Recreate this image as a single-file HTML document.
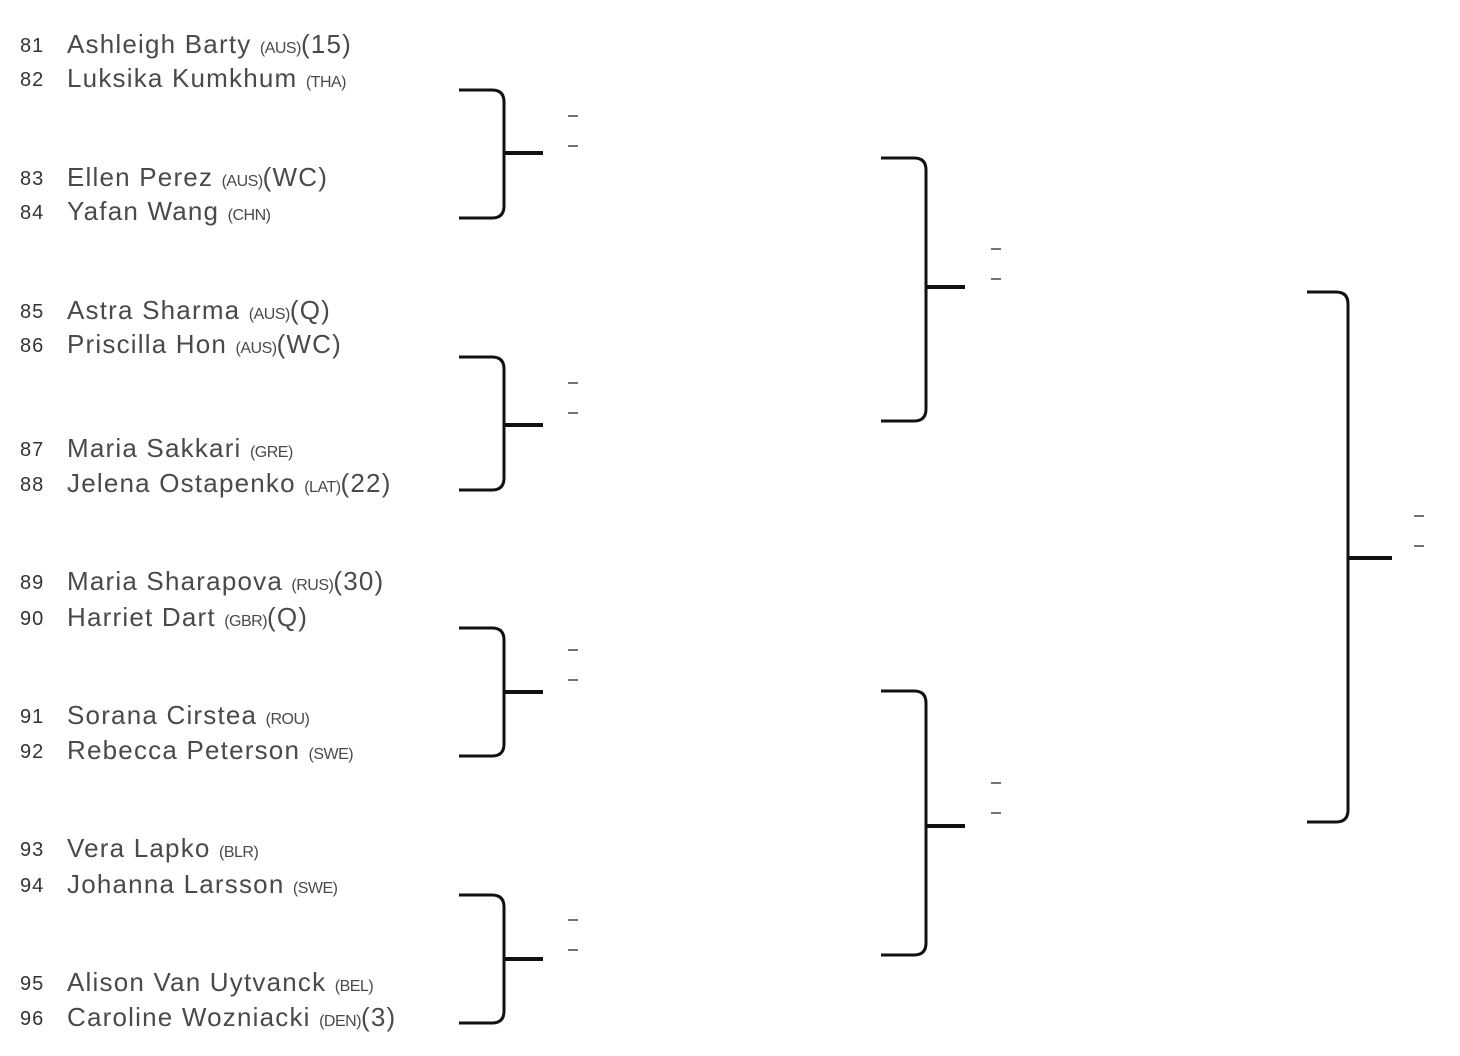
<!DOCTYPE html>
<html><head><meta charset="utf-8"><style>
html,body{margin:0;padding:0;background:#fff;}
svg{display:block;}
.n{font-family:"Liberation Sans",sans-serif;font-size:20px;fill:#333;letter-spacing:1px;}
.p{font-family:"Liberation Sans",sans-serif;font-size:26px;fill:#4a4a4a;letter-spacing:1.2px;}
.c{font-size:16px;letter-spacing:-0.5px;}
</style></head><body>
<svg width="1460" height="1056" viewBox="0 0 1460 1056" xmlns="http://www.w3.org/2000/svg">
<g fill="none" stroke="#111" stroke-width="3">
<path d="M459 90 H492 Q504 90 504 102 V206 Q504 218 492 218 H459"/>
<path d="M459 357 H492 Q504 357 504 369 V478 Q504 490 492 490 H459"/>
<path d="M459 628 H492 Q504 628 504 640 V744 Q504 756 492 756 H459"/>
<path d="M459 895 H492 Q504 895 504 907 V1011 Q504 1023 492 1023 H459"/>
<path d="M881 158 H914 Q926 158 926 170 V409 Q926 421 914 421 H881"/>
<path d="M881 691 H914 Q926 691 926 703 V943 Q926 955 914 955 H881"/>
<path d="M1307 292 H1336 Q1348 292 1348 304 V810 Q1348 822 1336 822 H1307"/>
</g>
<g stroke="#111" stroke-width="4">
<line x1="504" y1="153" x2="543" y2="153"/>
<line x1="504" y1="425" x2="543" y2="425"/>
<line x1="504" y1="692" x2="543" y2="692"/>
<line x1="504" y1="959" x2="543" y2="959"/>
<line x1="926" y1="287" x2="965" y2="287"/>
<line x1="926" y1="826" x2="965" y2="826"/>
<line x1="1348" y1="558" x2="1392" y2="558"/>
</g>
<g stroke="#444" stroke-width="1.5">
<line x1="568" y1="116" x2="578" y2="116"/><line x1="568" y1="146" x2="578" y2="146"/>
<line x1="568" y1="383" x2="578" y2="383"/><line x1="568" y1="413" x2="578" y2="413"/>
<line x1="568" y1="650" x2="578" y2="650"/><line x1="568" y1="680" x2="578" y2="680"/>
<line x1="568" y1="920" x2="578" y2="920"/><line x1="568" y1="950" x2="578" y2="950"/>
<line x1="991" y1="249" x2="1001" y2="249"/><line x1="991" y1="279" x2="1001" y2="279"/>
<line x1="991" y1="783" x2="1001" y2="783"/><line x1="991" y1="813" x2="1001" y2="813"/>
<line x1="1414" y1="516" x2="1424" y2="516"/><line x1="1414" y1="546" x2="1424" y2="546"/>
</g>
<g class="n">
<text x="20" y="52">81</text><text x="20" y="86">82</text>
<text x="20" y="185">83</text><text x="20" y="219">84</text>
<text x="20" y="318">85</text><text x="20" y="352">86</text>
<text x="20" y="456">87</text><text x="20" y="491">88</text>
<text x="20" y="589">89</text><text x="20" y="625">90</text>
<text x="20" y="723">91</text><text x="20" y="758">92</text>
<text x="20" y="856">93</text><text x="20" y="892">94</text>
<text x="20" y="990">95</text><text x="20" y="1025">96</text>
</g>
<g class="p">
<text x="67" y="53">Ashleigh Barty <tspan class="c">(AUS)</tspan>(15)</text>
<text x="67" y="87">Luksika Kumkhum <tspan class="c">(THA)</tspan></text>
<text x="67" y="186">Ellen Perez <tspan class="c">(AUS)</tspan>(WC)</text>
<text x="67" y="220">Yafan Wang <tspan class="c">(CHN)</tspan></text>
<text x="67" y="319">Astra Sharma <tspan class="c">(AUS)</tspan>(Q)</text>
<text x="67" y="353">Priscilla Hon <tspan class="c">(AUS)</tspan>(WC)</text>
<text x="67" y="457">Maria Sakkari <tspan class="c">(GRE)</tspan></text>
<text x="67" y="492">Jelena Ostapenko <tspan class="c">(LAT)</tspan>(22)</text>
<text x="67" y="590">Maria Sharapova <tspan class="c">(RUS)</tspan>(30)</text>
<text x="67" y="626">Harriet Dart <tspan class="c">(GBR)</tspan>(Q)</text>
<text x="67" y="724">Sorana Cirstea <tspan class="c">(ROU)</tspan></text>
<text x="67" y="759">Rebecca Peterson <tspan class="c">(SWE)</tspan></text>
<text x="67" y="857">Vera Lapko <tspan class="c">(BLR)</tspan></text>
<text x="67" y="893">Johanna Larsson <tspan class="c">(SWE)</tspan></text>
<text x="67" y="991">Alison Van Uytvanck <tspan class="c">(BEL)</tspan></text>
<text x="67" y="1026">Caroline Wozniacki <tspan class="c">(DEN)</tspan>(3)</text>
</g>
</svg>
</body></html>
